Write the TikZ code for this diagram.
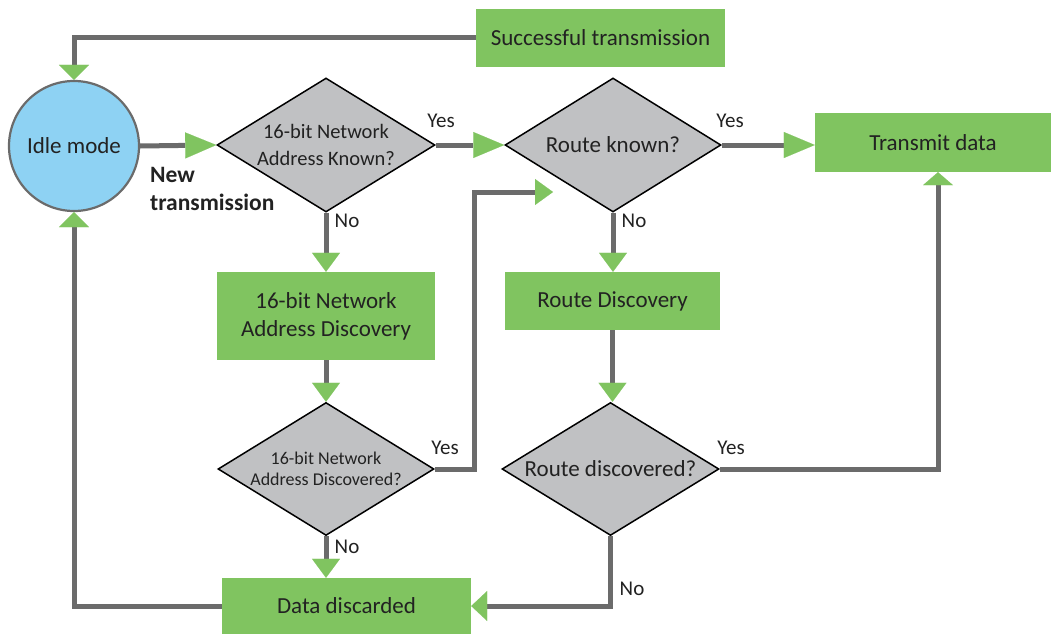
\documentclass[tikz,border=0pt]{standalone}
\usepackage{fontspec}
\setmainfont{Carlito}
\usetikzlibrary{arrows.meta,shapes.geometric,calc}
\definecolor{boxgreen}{HTML}{80C460}
\definecolor{idleblue}{HTML}{8ED2F3}
\definecolor{diagray}{HTML}{C0C1C3}
\definecolor{linegray}{HTML}{6B6B6B}
\definecolor{txt}{HTML}{222222}
\tikzset{
  every node/.style={text=txt},
  gbox/.style={rectangle, fill=boxgreen, inner sep=0pt, align=center, font=\fontsize{23}{28}\selectfont},
  dia/.style={diamond, aspect=1.63, fill=diagray, draw=black, line width=1.5pt, inner sep=0pt, align=center},
  conn/.style={draw=linegray, line width=5pt},
  arrR/.style={-{Triangle[length=31pt,width=26pt,line width=0.1pt,color=boxgreen,fill=boxgreen]}},
  arrD/.style={-{Triangle[length=19pt,width=28pt,line width=0.1pt,color=boxgreen,fill=boxgreen]}},
  arrF/.style={-{Triangle[length=15pt,width=30pt,line width=0.1pt,color=boxgreen,fill=boxgreen]}},
  lbl/.style={font=\fontsize{21}{24}\selectfont, inner sep=0pt},
}
\begin{document}
\begin{tikzpicture}[x=1pt,y=-1pt]
\useasboundingbox[fill=white] (0,0) rectangle (1051,634);
% nodes
\node[circle, fill=idleblue, draw=linegray, line width=2.2pt, minimum size=130pt, inner sep=0pt, font=\fontsize{23}{28}\selectfont] (idle) at (74,146) {Idle mode};
\node[dia, minimum width=218pt, minimum height=134pt, font=\fontsize{20.5}{27}\selectfont] (d1) at (326,145) {16-bit Network\\Address Known?};
\node[dia, minimum width=216pt, minimum height=134pt, font=\fontsize{23}{28}\selectfont] (rk) at (613,145) {Route known?};
\node[gbox, minimum width=249pt, minimum height=58pt] (succ) at (600.5,38) {Successful transmission};
\node[gbox, minimum width=236pt, minimum height=59pt] (td) at (933,142.5) {Transmit data};
\node[gbox, minimum width=218pt, minimum height=88pt] (nad) at (326,316) {16-bit Network\\Address Discovery};
\node[gbox, minimum width=215pt, minimum height=58pt] (rd) at (612.5,301) {Route Discovery};
\node[dia, minimum width=216pt, minimum height=133pt, font=\fontsize{18}{21}\selectfont] (d3) at (326,469) {16-bit Network\\Address Discovered?};
\node[dia, minimum width=217pt, minimum height=133pt, font=\fontsize{23}{28}\selectfont] (d4) at (610.5,469) {Route discovered?};
\node[gbox, minimum width=249pt, minimum height=56pt] (dd) at (346.5,606) {Data discarded};
\node[anchor=north west, align=left, inner sep=0pt, font=\bfseries\fontsize{23.5}{28}\selectfont] (newt) at (150,167) {New\\transmission};
% labels
\node[lbl] (y1) at (441,121) {Yes};
\node[lbl] (y2) at (730,121) {Yes};
\node[lbl] (n1) at (347,221) {No};
\node[lbl] (n2) at (634,221) {No};
\node[lbl] (y3) at (445,448) {Yes};
\node[lbl] (y4) at (731,448) {Yes};
\node[lbl] (n3) at (347,547) {No};
\node[lbl] (n4) at (632,589) {No};
\coordinate (yturn) at (474,192);
\coordinate (yend) at (553,192);
% connectors
\draw[conn, arrF] (succ.west) -| (idle.north);
\draw[conn, arrR] (idle.east) -- (d1.west);
\draw[conn, arrR] (d1.east) -- (rk.west);
\draw[conn, arrR] (rk.east) -- (rk.east -| td.west);
\draw[conn, arrD] (d1.south) -- (nad.north);
\draw[conn, arrD] (nad.south) -- (d3.north);
\draw[conn, arrD] (rk.south) -- (rk.south |- rd.north);
\draw[conn, arrD] (rd.south) -- (rd.south |- d4.north);
\draw[conn, arrD] (d3.south) -- (d3.south |- dd.north);
\draw[conn, arrF] (dd.west) -| (idle.south);
\draw[conn, -{Triangle[length=16pt,width=30pt,line width=0.1pt,color=boxgreen,fill=boxgreen]}] (d4.south) |- (dd.east);
\draw[conn, -{Triangle[length=13pt,width=30pt,line width=0.1pt,color=boxgreen,fill=boxgreen]}] (d4.east) -| ([xshift=5pt]td.south);
\draw[conn, -{Triangle[length=18pt,width=26pt,line width=0.1pt,color=boxgreen,fill=boxgreen]}] (d3.east) -| (yturn) -- (yend);
\end{tikzpicture}
\end{document}
